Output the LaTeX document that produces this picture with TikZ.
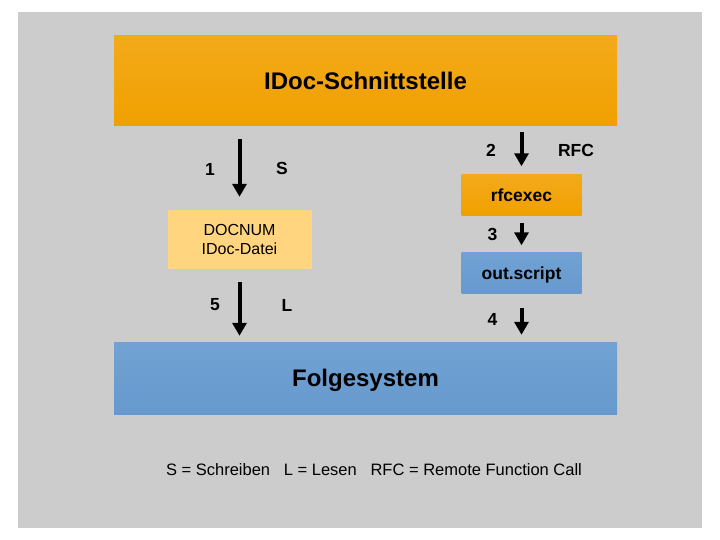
\documentclass[tikz,border=0pt]{standalone}
\usepackage{fontspec}
\setmainfont{Liberation Sans}
\usetikzlibrary{arrows.meta}
\definecolor{bggray}{RGB}{204,204,204}
\definecolor{orangetop}{RGB}{243,170,26}
\definecolor{orangebot}{RGB}{240,160,0}
\definecolor{bluetop}{RGB}{114,162,212}
\definecolor{bluebot}{RGB}{102,153,204}
\definecolor{lightorange}{RGB}{255,213,128}

\begin{document}
\begin{tikzpicture}[x=1pt, y=-1pt,
  big/.style = {minimum width=503pt, inner sep=0pt, text height=17pt, text depth=0pt, font=\fontsize{24}{28}\selectfont\bfseries},
  small/.style = {minimum width=120pt, minimum height=41pt, inner sep=0pt, text height=13pt, text depth=0pt, font=\fontsize{17.5}{20}\selectfont\bfseries},
  orange/.style = {top color=orangetop, bottom color=orangebot},
  blue/.style = {top color=bluetop, bottom color=bluebot},
  lbl/.style = {inner sep=0pt, font=\fontsize{17.5}{20}\selectfont\bfseries},
  arr/.style = {line width=4pt, -{Triangle[width=14pt,length=13pt]}}]
\useasboundingbox (0,0) rectangle (720,540);
\fill[bggray] (18,12) rectangle (702,528);
\node[big, orange, minimum height=90pt] (idoc) at (365.5,81) {IDoc-Schnittstelle};
\node[big, blue, minimum height=72pt] (folge) at (365.5,378) {Folgesystem};
\node[fill=lightorange, minimum width=144pt, minimum height=59pt, inner sep=0pt, align=center, font=\fontsize{16}{18.5}\selectfont] (docnum) at (239.5,239.5) {DOCNUM\\IDoc-Datei};
\node[small, orange] (rfcexec) at (521.5,195) {rfcexec};
\node[small, blue] (outscript) at (521.5,273) {out.script};
\node[lbl] (n1) at (210,169) {1};
\node[lbl] (s) at (282,168) {S};
\node[lbl] (n2) at (491,150) {2};
\node[lbl] (rfc) at (576,150) {RFC};
\node[lbl] (n3) at (492.5,234) {3};
\node[lbl] (n4) at (492.5,319) {4};
\node[lbl] (n5) at (215,305) {5};
\node[lbl] (l) at (287,305) {L};
\node[inner sep=0pt, text height=12pt, text depth=0pt, font=\fontsize{16.5}{20}\selectfont] (legend) at (374,469) {S = Schreiben~~~L = Lesen~~~RFC = Remote Function Call};
\draw[arr, shorten <=13pt, shorten >=13pt] (docnum.north |- idoc.south) -- (docnum.north);
\draw[arr, shorten <=13pt, shorten >=6pt] (docnum.south) -- (docnum.south |- folge.north);
\draw[arr, shorten <=6pt, shorten >=8pt] (rfcexec.north |- idoc.south) -- (rfcexec.north);
\draw[arr, shorten <=7pt, shorten >=7pt] (rfcexec.south) -- (outscript.north);
\draw[arr, shorten <=14pt, shorten >=7pt] (outscript.south) -- (outscript.south |- folge.north);
\end{tikzpicture}
\end{document}
